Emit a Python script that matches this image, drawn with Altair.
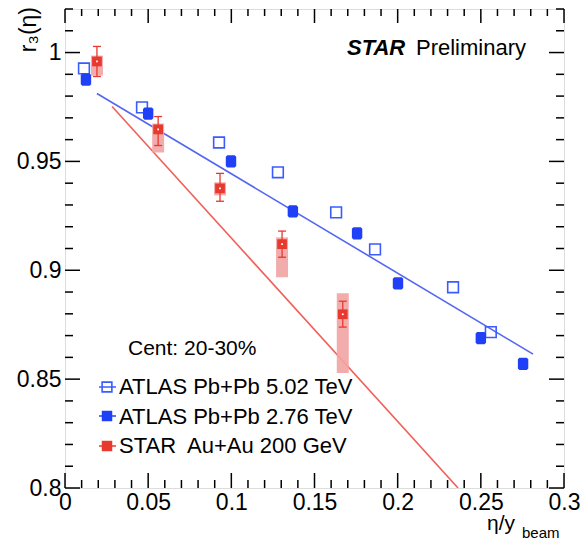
import altair as alt
import pandas as pd

# ATLAS Pb+Pb 5.02 TeV (open squares)
atlas502_x = [0.0114, 0.0463, 0.0926, 0.128, 0.163, 0.1864, 0.2333, 0.256]
atlas502_r3 = [0.9927, 0.9748, 0.9587, 0.945, 0.9266, 0.9096, 0.8922, 0.8716]

# ATLAS Pb+Pb 2.76 TeV (filled)
atlas276_x = [0.0126, 0.050, 0.0998, 0.137, 0.1756, 0.2002, 0.250, 0.2754]
atlas276_r3 = [0.9876, 0.972, 0.950, 0.927, 0.917, 0.894, 0.8688, 0.857]

# STAR Au+Au 200 GeV with statistical and systematic uncertainties
star_x = [0.0192, 0.056, 0.0932, 0.1305, 0.167]
star_r3 = [0.9959, 0.9647, 0.9376, 0.912, 0.8798]
star_stat_lo = [0.989, 0.9573, 0.9317, 0.906, 0.8739]
star_stat_hi = [1.0028, 0.9706, 0.9445, 0.918, 0.8858]
star_sys_lo = [0.9894, 0.9541, 0.9344, 0.8968, 0.8528]
star_sys_hi = [0.9986, 0.9674, 0.9404, 0.9151, 0.8894]

# linear fits
fit_atlas_x = [0.0192, 0.2814]
fit_atlas_r3 = [0.9812, 0.8615]
fit_star_x = [0.0283, 0.2363]
fit_star_r3 = [0.9752, 0.80]

# axis ticks / labels
x_major = [0.0, 0.05, 0.1, 0.15, 0.2, 0.25, 0.3]
y_major = [0.8, 0.85, 0.9, 0.95, 1.0]
x_all = [round(0.01 * i, 2) for i in range(31)]
y_all = [round(0.8 + 0.01 * i, 2) for i in range(23)]

legend_labels = ["ATLAS Pb+Pb 5.02 TeV", "ATLAS Pb+Pb 2.76 TeV", "STAR\u00a0 Au+Au 200 GeV"]
cent_label = "Cent: 20-30%"

W, H = 499, 479
FONT = "Liberation Sans"
BLUE = "#2040f8"
BLUE_OPEN = "#3a5cff"
BLUE_LINE = "#5566f0"
RED = "#e8392e"
RED_LINE = "#f06058"
PINK = "#f2a3a3"

xs = alt.Scale(domain=[0, 0.3], nice=False, zero=False)
ys = alt.Scale(domain=[0.8, 1.02], nice=False, zero=False)
x_axis = alt.Axis(values=x_major, format="~g", ticks=False, domain=False, grid=False,
                  labelFontSize=23, labelFont=FONT, labelColor="black", labelPadding=3,
                  labelFlush=False, labelOverlap=False, title=None)
y_axis = alt.Axis(values=y_major, format="~g", ticks=False, domain=False, grid=False,
                  labelFontSize=23, labelFont=FONT, labelColor="black", labelPadding=4,
                  labelFlush=False, labelOverlap=False, title=None)


def X(field):
    return alt.X(f"{field}:Q", scale=xs, axis=x_axis)


def Y(field):
    return alt.Y(f"{field}:Q", scale=ys, axis=y_axis)


octagon = "M-0.6,-1L0.6,-1L0.85,-0.75L0.85,0.75L0.6,1L-0.6,1L-0.85,0.75L-0.85,-0.75Z"

df502 = pd.DataFrame({"x": atlas502_x, "r3": atlas502_r3})
df276 = pd.DataFrame({"x": atlas276_x, "r3": atlas276_r3})
dfstar = pd.DataFrame({
    "x": star_x, "r3": star_r3,
    "stat_lo": star_stat_lo, "stat_hi": star_stat_hi,
    "sys_lo": star_sys_lo, "sys_hi": star_sys_hi,
})
dfstar["box_l"] = dfstar["x"] - 0.0036
dfstar["box_r"] = dfstar["x"] + 0.0036
dfstar["cap_l"] = dfstar["x"] - 0.0024
dfstar["cap_r"] = dfstar["x"] + 0.0024

fit_a = pd.DataFrame({"x": fit_atlas_x, "r3": fit_atlas_r3})
fit_s = pd.DataFrame({"x": fit_star_x, "r3": fit_star_r3})

layers = []


# frame ticks drawn inward on all four sides
def tick_layers(values, is_x):
    df = pd.DataFrame({"v": values})
    df["major"] = [round(v * 100) % 5 == 0 for v in values]
    out = []
    for major, length in [(True, 15), (False, 8)]:
        sub = df[df["major"] == major]
        base = alt.Chart(sub).mark_rule(color="black", strokeWidth=1.5)
        if is_x:
            enc = X("v")
            out.append(base.encode(x=enc, y=alt.value(H), y2=alt.value(H - length)))
            out.append(base.encode(x=enc, y=alt.value(0), y2=alt.value(length - 1)))
        else:
            enc = Y("v")
            out.append(base.encode(y=enc, x=alt.value(0), x2=alt.value(length)))
            out.append(base.encode(y=enc, x=alt.value(W), x2=alt.value(W - length)))
    return out


layers += tick_layers(x_all, True)
layers += tick_layers(y_all, False)

# fit lines
layers.append(alt.Chart(fit_s).mark_line(color=RED_LINE, strokeWidth=1.6, clip=True).encode(x=X("x"), y=Y("r3")))
layers.append(alt.Chart(fit_a).mark_line(color=BLUE_LINE, strokeWidth=1.6).encode(x=X("x"), y=Y("r3")))

# ATLAS 5.02 TeV open squares
layers.append(alt.Chart(df502).mark_point(shape="square", filled=False, size=115, color=BLUE_OPEN,
                                          strokeWidth=1.6, opacity=1).encode(x=X("x"), y=Y("r3")))
# ATLAS 2.76 TeV filled markers
layers.append(alt.Chart(df276).mark_point(shape=octagon, filled=True, size=150, color=BLUE,
                                          opacity=1).encode(x=X("x"), y=Y("r3")))

# STAR systematic boxes, stat errors, markers
star = alt.Chart(dfstar)
layers.append(star.mark_rect(color=PINK, opacity=0.9).encode(x=X("box_l"), x2="box_r", y=Y("sys_lo"), y2="sys_hi"))
layers.append(star.mark_rule(color=RED, strokeWidth=1.3).encode(x=X("x"), y=Y("stat_lo"), y2="stat_hi"))
layers.append(star.mark_rule(color=RED, strokeWidth=1.3).encode(x=X("cap_l"), x2="cap_r", y=Y("stat_lo")))
layers.append(star.mark_rule(color=RED, strokeWidth=1.3).encode(x=X("cap_l"), x2="cap_r", y=Y("stat_hi")))
layers.append(star.mark_point(shape="square", filled=True, size=95, color=RED, opacity=1).encode(x=X("x"), y=Y("r3")))
layers.append(star.mark_point(shape="square", filled=True, size=3, color="white", opacity=1).encode(x=X("x"), y=Y("r3")))


def text(t, px, py, size=22, **kw):
    return alt.Chart(pd.DataFrame({"t": [t]})).mark_text(
        align=kw.pop("align", "left"), baseline="alphabetic", fontSize=size, font=FONT,
        color="black", **kw).encode(x=alt.value(px), y=alt.value(py), text="t:N")


# header
layers.append(text("STAR", 282, 46, 22, fontStyle="italic", fontWeight="bold"))
layers.append(text("Preliminary", 351, 46, 22))

# legend
layers.append(text(cent_label, 63, 346, 21))
row_y = [378, 407, 437]
text_y = [385, 415, 444]
one = pd.DataFrame({"k": [0]})
for i, lab in enumerate(legend_labels):
    col = [BLUE_OPEN, BLUE, RED][i]
    layers.append(alt.Chart(one).mark_rule(color=col, strokeWidth=1.5).encode(
        x=alt.value(34), x2=alt.value(51), y=alt.value(row_y[i])))
    if i == 0:
        m = alt.Chart(one).mark_point(shape="square", filled=False, size=95, color=col, strokeWidth=1.6, opacity=1)
    else:
        m = alt.Chart(one).mark_point(shape="square", filled=True, size=110, color=col, opacity=1)
    layers.append(m.encode(x=alt.value(42), y=alt.value(row_y[i])))
    layers.append(text(lab, 54, text_y[i], 22))

# axis titles
layers.append(text("r\u2083(\u03b7)", -29, -2, 23, angle=270, align="right"))
layers.append(text("\u03b7/y", 422, 521, 21))
layers.append(text("beam", 457, 529, 15))

chart = alt.layer(*layers).properties(
    width=W, height=H,
    autosize=alt.AutoSizeParams(type="none"),
    padding={"left": 65, "top": 9, "right": 19, "bottom": 54},
).configure_view(stroke="black", strokeWidth=1.6).configure(background="white")

chart.save("out.html", embed_options={"renderer": "svg", "actions": False})
